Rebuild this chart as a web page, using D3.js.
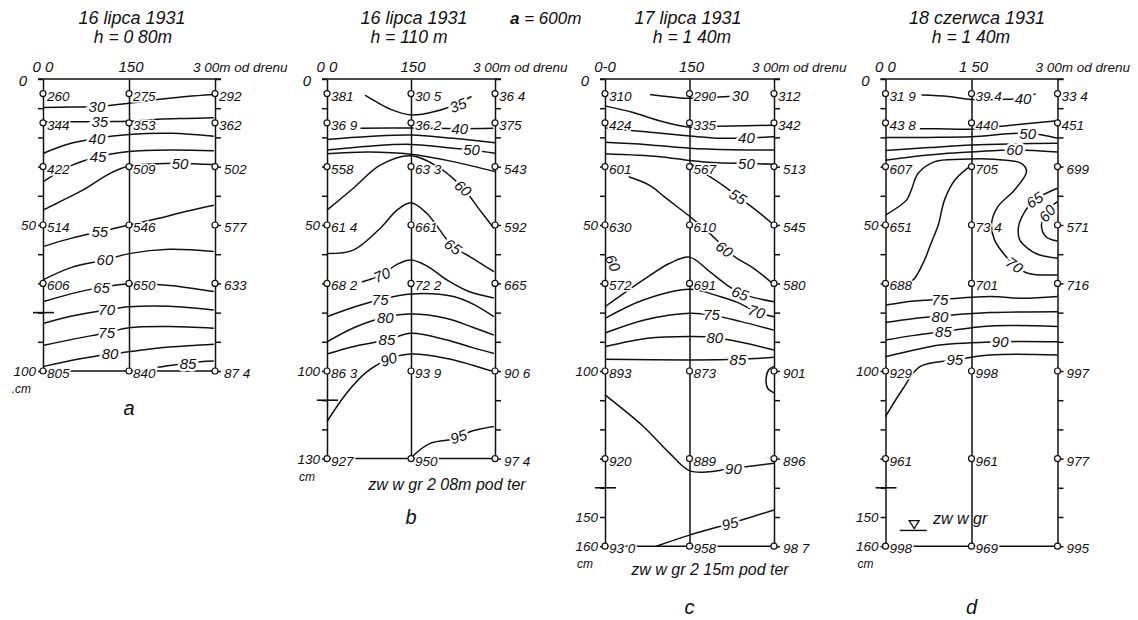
<!DOCTYPE html>
<html>
<head>
<meta charset="utf-8">
<script src="https://cdn.jsdelivr.net/npm/d3@7"></script>
<style>
body { margin: 0; background: #fff; }
text { font-family: "Liberation Sans", Arial, sans-serif; font-style: italic; fill: #111; }
</style>
</head>
<body>
<svg id="chart" width="1138" height="620"></svg>
<script>
// measuring columns (m from the drain) and depths of the samples (cm)
var columns = [0, 150, 300];
var depthsA = [5, 15, 30, 50, 70, 100];
var depthsB = [5, 15, 30, 50, 70, 100, 130];
var depthsC = [5, 15, 30, 50, 70, 100, 130, 160];
var depthsD = [5, 15, 30, 50, 70, 100, 130, 160];

// readings written next to each sample point (left, middle, right column)
var valsA = [
  ['260', '344', '422', '514', '606', '805'],
  ['275', '353', '509', '546', '650', '840'],
  ['292', '362', '502', '577', '633', '87 4']];
var valsB = [
  ['381', '36 9', '558', '61 4', '68 2', '86 3', '927'],
  ['30 5', '36 2', '63 3', '661', '72 2', '93 9', '950'],
  ['36 4', '375', '543', '592', '665', '90 6', '97 4']];
var valsC = [
  ['310', '424', '601', '630', '572', '893', '920', '93 0'],
  ['290', '335', '567', '610', '691', '873', '889', '958'],
  ['312', '342', '513', '545', '580', '901', '896', '98 7']];
var valsD = [
  ['31 9', '43 8', '607', '651', '688', '929', '961', '998'],
  ['39 4', '440', '705', '73 4', '701', '998', '961', '969'],
  ['33 4', '451', '699', '571', '716', '997', '977', '995']];

// isolines: points [m, cm], label point [m, cm]
var isoA = [
  {v: '30', pts: [[0,9.8],[50,9.6],[94,9.4],[150,8.3],[200,7],[250,6],[298,5.3]], at: [94,9.4]},
  {v: '35', pts: [[5,14.6],[60,14.6],[100,14.6],[150,14.5],[200,13.8],[250,13.5],[298,13.3]], at: [99,14.6]},
  {v: '40', pts: [[0,25.5],[40,22.5],[94,20.3],[150,19],[225,18.6],[298,19.6]], at: [94,20.3]},
  {v: '45', pts: [[0,35.2],[45,30],[96,26.6],[150,24.8],[225,24.3],[298,24.6]], at: [96,26.6]},
  {v: '50', pts: [[0,44.9],[35,41.5],[70,38],[117,32.3],[150,29.8],[200,29],[239,28.9],[298,29.3]], at: [239,28.9]},
  {v: '55', pts: [[0,57.4],[50,54.5],[99,52.3],[150,50],[200,47.8],[250,45.3],[298,43.2]], at: [99,52.3]},
  {v: '60', pts: [[0,68.8],[50,64.5],[108,62],[150,59.8],[220,58.3],[298,59.1]], at: [108,62]},
  {v: '65', pts: [[0,76.3],[50,73.5],[102,71.3],[150,70.2],[220,70.7],[298,72.8]], at: [102,71.3]},
  {v: '70', pts: [[0,83.7],[55,81],[111,79.1],[150,78],[220,77.8],[298,79.1]], at: [111,79.1]},
  {v: '75', pts: [[0,91.3],[55,89],[111,86.9],[150,85.2],[220,84.8],[298,85.4]], at: [111,86.9]},
  {v: '80', pts: [[0,98.5],[60,96],[117,94.2],[150,93.4],[220,91.8],[298,90.8]], at: [117,94.2]},
  {v: '85', pts: [[200,98.7],[225,98],[253,97.4],[275,96.8],[298,96.6]], at: [253,97.4]}
];
var isoB = [
  {v: '35', pts: [[68,5.5],[85,7.5],[115,10.5],[150,12.3],[185,11.5],[220,9.5],[258,6]], at: [234,9]},
  {v: '40', pts: [[60,16.9],[150,16.8],[230,17],[297,16.9]], at: [237,17]},
  {v: '', pts: [[0,20.7],[75,19.7],[150,19.2],[225,20.3],[300,21.8]]},
  {v: '50', pts: [[0,24.3],[75,23],[150,22.4],[225,23.7],[258,24.3],[300,25.4]], at: [258,24.3]},
  {v: '', pts: [[0,25.6],[75,25],[150,25.8],[225,28.3],[300,31.7]]},
  {v: '60', pts: [[0,44.9],[47,37.4],[95,29.5],[150,26.3],[202,30.6],[243,37.4],[273,44.9],[298,51.1]], at: [243,37.4]},
  {v: '65', pts: [[0,59.8],[47,58.6],[95,51.1],[125,44.9],[150,42.4],[178,46],[225,57.4],[255,60.8],[298,66]], at: [225,57.4]},
  {v: '70', pts: [[62,69.5],[98,67.1],[125,63.5],[150,62],[178,64],[214,68.8],[250,72.5],[298,75]], at: [98,67.1]},
  {v: '75', pts: [[0,81.4],[50,78],[95,75.5],[150,73.6],[226,74.5],[265,77.5],[298,81.4]], at: [95,75.5]},
  {v: '80', pts: [[0,90],[50,85],[104,81.6],[150,80.5],[214,82],[260,85],[298,87.7]], at: [104,81.6]},
  {v: '85', pts: [[0,94.2],[50,91.5],[107,89.4],[150,87.1],[214,89.4],[260,92],[298,94]], at: [107,89.4]},
  {v: '90', pts: [[0,117.3],[35,107.6],[70,100.5],[110,96],[150,94.2],[214,95.7],[260,98],[298,100.2]], at: [110,96]},
  {v: '95', pts: [[150,129.7],[184,124.8],[235,123],[255,120.8],[298,119]], at: [235,122.5]}
];
var isoC = [
  {v: '30', pts: [[80,5.3],[110,6],[145,6.6],[185,6.3],[228,5.9]], at: [240,5.8]},
  {v: '', pts: [[0,9.2],[50,11.5],[100,14.5],[150,16.5],[200,16.2],[250,16],[300,15.8]]},
  {v: '40', pts: [[0,16.8],[67,18],[150,19.5],[204,20.3],[251,20.2],[300,19.8]], at: [251,20.2]},
  {v: '', pts: [[0,21.7],[75,22.5],[150,23.7],[225,24.2],[300,24.3]]},
  {v: '50', pts: [[0,25.6],[97,26.6],[150,27.9],[200,28.7],[250,28.9],[300,29.2]], at: [251,28.9]},
  {v: '55', pts: [[152,29],[182,32.9],[210,36.5],[236,40.3],[255,43],[272,45.5],[300,50]], at: [236,40.3]},
  {v: '60', pts: [[42,33.5],[80,36.5],[105,40.3],[130,44],[150,47],[175,51],[200,55.5],[212,58],[235,61.5],[260,64.3],[282,67.5],[300,70.5]], at: [212,58.3]},
  {v: '65', pts: [[0,78],[68,68.8],[115,63.1],[150,61],[186,66],[216,70.5],[240,73.4],[300,76.3]], at: [240,73.4]},
  {v: '70', pts: [[0,82],[68,75.7],[150,72],[204,74.5],[235,76.5],[269,79.7],[300,81.4]], at: [269,79.7]},
  {v: '75', pts: [[0,87],[70,82.5],[150,80.2],[189,80.8],[240,83],[300,86]], at: [189,80.8]},
  {v: '80', pts: [[0,91.7],[76,88.8],[150,88.2],[195,88.5],[250,90.5],[300,92.8]], at: [195,88.5]},
  {v: '85', pts: [[0,96],[150,96.2],[236,96],[300,95.3]], at: [236,96]},
  {v: '90', pts: [[0,108.2],[68,119],[115,128.2],[150,134.1],[186,134.5],[228,133.3],[300,131.6]], at: [228,133.3]},
  {v: '95', pts: [[91,160],[150,156.2],[222,152.2],[300,147.6]], at: [222,152.2]},
  {v: '', pts: [[300,98.5],[291,99.5],[286,102.5],[289,106],[300,107.5]]}
];
var isoD = [
  {v: '40', pts: [[63,5.5],[110,6],[150,7],[200,7],[240,6.6],[262,5]], at: [240,6.6]},
  {v: '', pts: [[60,17],[110,17.1],[150,17.2],[211,16],[300,14.3]]},
  {v: '50', pts: [[0,20],[75,20],[150,19.8],[248,18.6],[300,20.3]], at: [248,18.6]},
  {v: '', pts: [[0,24.5],[75,23.5],[150,22.6],[225,22.2],[300,22]]},
  {v: '60', pts: [[0,27.8],[50,26.5],[100,25.6],[150,25],[225,24.3],[300,25]], at: [225,24.3]},
  {v: '70', pts: [[0,46.6],[37,41.4],[45,38],[57,32.3],[86,28.3],[132,27.5],[190,27.5],[237,28.9],[246,31.7],[225,38],[196,43.7],[185,49.4],[190,55],[208,60.3],[225,63.7],[248,66.5],[300,67.1]], at: [225,63.7]},
  {v: '', pts: [[150,29.5],[121,34.6],[103,41.4],[92,50],[80,56],[68,62],[50,68.5],[38,70]]},
  {v: '65', pts: [[300,37.4],[260,41.4],[243,45.4],[232,50.6],[234,55],[248,58],[265,60],[300,61.4]], at: [260,41.4]},
  {v: '60', pts: [[300,42],[285,44.5],[272,50],[280,54],[300,55.5]], at: [282,46]},
  {v: '75', pts: [[0,77.4],[50,76],[95,75.5],[182,74.5],[240,75.1],[300,74.5]], at: [95,75.5]},
  {v: '80', pts: [[0,83.4],[50,82],[95,81.2],[182,80],[300,79.7]], at: [95,81.2]},
  {v: '85', pts: [[0,89.4],[50,87.8],[101,86.5],[182,84.6],[300,84.8]], at: [101,86.5]},
  {v: '90', pts: [[0,95.1],[50,92.8],[95,91.1],[200,90],[300,90]], at: [200,90]},
  {v: '95', pts: [[0,115.6],[31,105.9],[60,98.5],[121,96.2],[182,94.5],[300,94.5]], at: [121,96.2]}
];

var svg = d3.select('#chart');
var ink = '#111';
var pxPerCm = 2.92;
var top0 = 79;

var panels = [
  {id: 'a', x0: 43, w: 172, max: 100, h: 80, depths: depthsA, vals: valsA, iso: isoA,
   date: '16 lipca 1931', hh: 'h = 0 80m', dx: 132, hx: 133, c0: '0 0', c1: '150', cm: '.cm',
   axisLabs: [50, 100], letterY: 415},
  {id: 'b', x0: 327, w: 168, max: 130, h: 110, depths: depthsB, vals: valsB, iso: isoB,
   date: '16 lipca 1931', hh: 'h = 110 m', dx: 414, hx: 409, c0: '0 0', c1: '150', cm: 'cm',
   axisLabs: [50, 100, 130], letterY: 524, sub: 'zw w gr 2 08m pod ter', subX: 447, subY: 490},
  {id: 'c', x0: 605, w: 169, max: 160, h: 140, depths: depthsC, vals: valsC, iso: isoC,
   date: '17 lipca 1931', hh: 'h = 1 40m', dx: 688, hx: 692, c0: '0-0', c1: '150', cm: 'cm',
   axisLabs: [50, 100, 150, 160], letterY: 614, sub: 'zw w gr 2 15m pod ter', subX: 710, subY: 575},
  {id: 'd', x0: 885.5, w: 172, max: 160, h: 140, depths: depthsD, vals: valsD, iso: isoD,
   date: '18 czerwca 1931', hh: 'h = 1 40m', dx: 977, hx: 971, c0: '0 0', c1: '1 50', cm: 'cm',
   axisLabs: [50, 100, 150, 160], letterY: 614}
];

svg.append('text').attr('x', 510).attr('y', 24).style('font-size', '17px')
  .html('<tspan style="font-weight:bold">a</tspan> = 600m');

function labelAngle(node, px, py) {
  var L = node.getTotalLength(), n = 150, best = 0, bd = Infinity, pts = [];
  for (var i = 0; i <= n; i++) {
    var p = node.getPointAtLength(L * i / n);
    pts.push(p);
    var dd = (p.x - px) * (p.x - px) + (p.y - py) * (p.y - py);
    if (dd < bd) { bd = dd; best = i; }
  }
  var a = pts[Math.max(0, best - 4)], b = pts[Math.min(n, best + 4)];
  var ang = Math.atan2(b.y - a.y, b.x - a.x) * 180 / Math.PI;
  if (ang > 90) ang -= 180;
  if (ang < -90) ang += 180;
  if (Math.abs(ang) < 16) ang = 0;
  return ang * 0.85;
}

panels.forEach(function (p) {
  var x = d3.scaleLinear().domain([0, 300]).range([p.x0, p.x0 + p.w]);
  var y = d3.scaleLinear().domain([0, p.max]).range([top0, top0 + p.max * pxPerCm]);
  var g = svg.append('g');
  var line = d3.line()
    .x(function (d) { return x(d[0]); })
    .y(function (d) { return y(d[1]); })
    .curve(d3.curveCatmullRom.alpha(0.5));

  // isolines
  var paths = p.iso.map(function (c) {
    return g.append('path')
      .attr('d', line(c.pts))
      .attr('fill', 'none')
      .attr('stroke', ink)
      .attr('stroke-width', 1.5);
  });

  // frame: verticals with ticks every 10 cm
  var tv = d3.range(0, p.max + 1, 10);
  g.append('g').attr('transform', 'translate(' + x(0) + ',0)')
    .call(d3.axisLeft(y).tickValues(tv).tickSize(5).tickSizeOuter(0).tickFormat(''));
  g.append('g').attr('transform', 'translate(' + x(300) + ',0)')
    .call(d3.axisRight(y).tickValues(tv).tickSize(6).tickSizeOuter(0).tickFormat(''));
  g.append('g').attr('transform', 'translate(' + x(150) + ',0)')
    .call(d3.axisLeft(y).tickValues([]).tickSizeOuter(0));
  g.selectAll('.domain, .tick line').attr('stroke', ink).attr('stroke-width', 1.5);

  g.append('line').attr('x1', x(0) - 5).attr('x2', x(300) + 6)
    .attr('y1', y(0)).attr('y2', y(0)).attr('stroke', ink).attr('stroke-width', 1.6);
  g.append('line').attr('x1', x(0)).attr('x2', x(300))
    .attr('y1', y(p.max)).attr('y2', y(p.max)).attr('stroke', ink).attr('stroke-width', 1.5);
  // drain depth mark
  g.append('line').attr('x1', x(0) - 10).attr('x2', x(0) + 11)
    .attr('y1', y(p.h)).attr('y2', y(p.h)).attr('stroke', ink).attr('stroke-width', 1.6);

  // isoline labels
  p.iso.forEach(function (c, i) {
    if (!c.v) return;
    var lx = x(c.at[0]), ly = y(c.at[1]);
    var ang = labelAngle(paths[i].node(), lx, ly);
    g.append('text')
      .attr('transform', 'translate(' + lx + ',' + ly + ') rotate(' + ang + ')')
      .attr('text-anchor', 'middle').attr('dy', '0.36em')
      .style('font-size', '15px')
      .style('paint-order', 'stroke').style('stroke', '#fff').style('stroke-width', '5px')
      .text(c.v);
  });

  // sample points and readings
  columns.forEach(function (m, ci) {
    p.depths.forEach(function (d, di) {
      var off = (ci === 2 && d % 10 === 0) ? 9 : 4;
      g.append('text')
        .attr('x', x(m) + off).attr('y', y(d) + 7)
        .style('font-size', '13.5px')
        .style('paint-order', 'stroke').style('stroke', '#fff').style('stroke-width', '3px')
        .text(p.vals[ci][di]);
      g.append('circle').attr('cx', x(m)).attr('cy', y(d)).attr('r', 3)
        .attr('fill', '#fff').attr('stroke', ink).attr('stroke-width', 1.2);
    });
  });

  // axis lettering
  g.append('text').attr('x', x(0) - 16).attr('y', y(0) + 7).attr('text-anchor', 'end')
    .style('font-size', '15px').text('0');
  p.axisLabs.forEach(function (d) {
    g.append('text').attr('x', x(0) - 7).attr('y', y(d) + 5).attr('text-anchor', 'end')
      .style('font-size', '13.5px').text(d);
  });
  g.append('text').attr('x', x(0) - 12).attr('y', y(p.max) + 22).attr('text-anchor', 'end')
    .style('font-size', '12px').text(p.cm);
  g.append('text').attr('x', x(0)).attr('y', 72).attr('text-anchor', 'middle')
    .style('font-size', '15px').text(p.c0);
  g.append('text').attr('x', x(150) + 2).attr('y', 72).attr('text-anchor', 'middle')
    .style('font-size', '15px').text(p.c1);
  g.append('text').attr('x', x(300) - 22).attr('y', 72)
    .style('font-size', '13.5px').text('3 00m od drenu');

  // titles
  g.append('text').attr('x', p.dx).attr('y', 24).attr('text-anchor', 'middle')
    .style('font-size', '18px').text(p.date);
  g.append('text').attr('x', p.hx).attr('y', 43).attr('text-anchor', 'middle')
    .style('font-size', '17.5px').text(p.hh);
  if (p.sub) {
    g.append('text').attr('x', p.subX).attr('y', p.subY).attr('text-anchor', 'middle')
      .style('font-size', '16px').text(p.sub);
  }
  g.append('text').attr('x', x(150)).attr('y', p.letterY).attr('text-anchor', 'middle')
    .style('font-size', '20px').text(p.id);

  if (p.id === 'c') {
    g.append('text')
      .attr('transform', 'translate(' + x(14) + ',' + y(63) + ') rotate(65)')
      .attr('text-anchor', 'middle').attr('dy', '0.36em')
      .style('font-size', '15px').text('60');
  }
  if (p.id === 'd') {
    var tx = x(50), ty = y(152.6);
    g.append('path')
      .attr('d', 'M' + (tx - 5) + ',' + (ty - 4) + 'L' + (tx + 5) + ',' + (ty - 4) + 'L' + tx + ',' + (ty + 4) + 'Z')
      .attr('fill', 'none').attr('stroke', ink).attr('stroke-width', 1.3);
    g.append('line').attr('x1', x(25)).attr('x2', x(72))
      .attr('y1', y(154.6)).attr('y2', y(154.6)).attr('stroke', ink).attr('stroke-width', 1.4);
    g.append('text').attr('x', x(83)).attr('y', y(152.4))
      .style('font-size', '16px').text('zw w gr');
  }
});
</script>
</body>
</html>
